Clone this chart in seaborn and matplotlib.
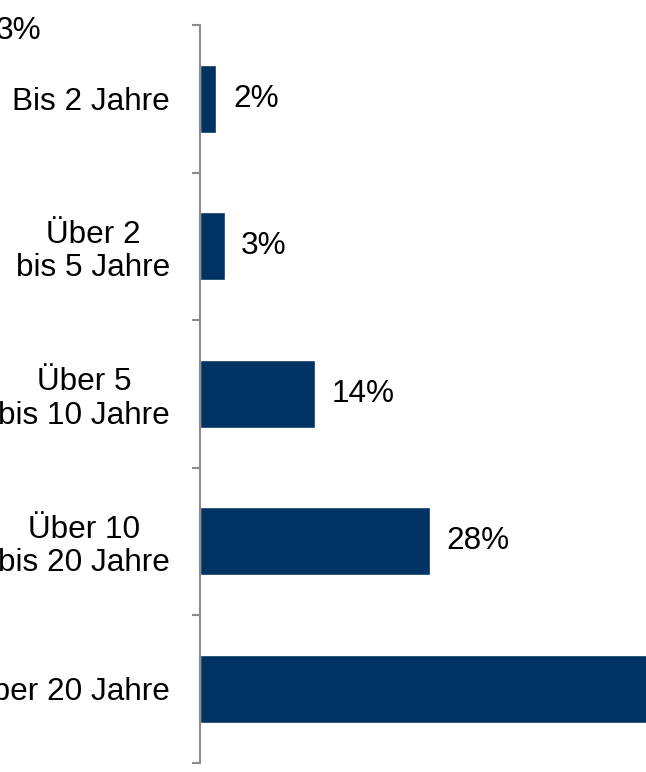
import matplotlib
matplotlib.use("Agg")
import matplotlib.pyplot as plt
import seaborn as sns
import pandas as pd
import numpy as np

categories = ["Bis 2 Jahre", "Über 2\nbis 5 Jahre", "Über 5\nbis 10 Jahre",
              "Über 10\nbis 20 Jahre", "Über 20 Jahre"]
values = [2, 3, 14, 28, 55]
value_labels = ["2%", "3%", "14%", "28%", "55%"]
stray_label = "3%"

sns.set_theme(style="white")
plt.rcParams["font.family"] = ["Liberation Sans", "DejaVu Sans"]

W, H = 646, 772
fig = plt.figure(figsize=(W / 100, H / 100), dpi=100)
ax = fig.add_axes([200 / W, (H - 762.5) / H, 1 - 200 / W, (762.5 - 25) / H])

df = pd.DataFrame({"cat": categories, "val": values})
sns.barplot(data=df, x="val", y="cat", orient="h", color="#003363",
            saturation=1, width=0.46, ax=ax)

XMAX = 54.4
ax.set_xlim(0, XMAX)
ax.set_ylim(4.5, -0.5)
ax.set_xlabel("")
ax.set_ylabel("")
ax.set_xticks([])

for s in ["top", "right", "bottom"]:
    ax.spines[s].set_visible(False)
ax.spines["left"].set_color("#8c8c8c")
ax.spines["left"].set_linewidth(1.5)

fs = 22.7
ax.set_yticks(range(len(categories)))
ax.set_yticklabels(categories, fontsize=fs, color="black",
                   multialignment="center", linespacing=1.15)
ax.tick_params(axis="y", which="major", left=False, length=0, pad=21.5)
ax.set_yticks(np.arange(-0.5, len(categories), 1.0), minor=True)
ax.tick_params(axis="y", which="minor", left=True, length=6, width=1.5,
               color="#8c8c8c", direction="out")

for i, (v, lab) in enumerate(zip(values, value_labels)):
    if v < XMAX * 0.9:
        ax.annotate(lab, xy=(v, i), xytext=(12, 0), textcoords="offset points",
                    ha="left", va="center", fontsize=fs, color="black")

fig.text(-4 / W, (H - 31) / H, stray_label, fontsize=fs, color="black",
         ha="left", va="center")

fig.savefig("out.png", dpi=100)
